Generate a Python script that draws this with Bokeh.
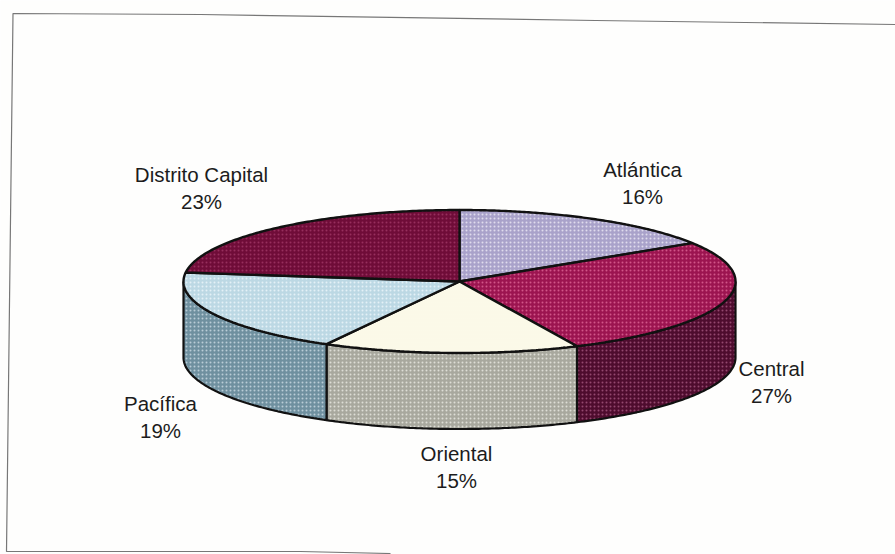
import numpy as np
from bokeh.embed import file_html
from bokeh.models import ColumnDataSource, Range1d
from bokeh.plotting import figure
from bokeh.core.properties import value
from bokeh.resources import INLINE

# Regional shares, clockwise from twelve o'clock
regions = ["Atlántica", "Central", "Oriental", "Pacífica", "Distrito Capital"]
shares = [16, 27, 15, 19, 23]

top_colors = ["#a9a2ca", "#9c1450", "#fbf9e8", "#bcd8e4", "#6f0c38"]
side_colors = ["#8f89b0", "#4e0c2e", "#a8a89e", "#6f909f", "#5a0c30"]
hatch_colors = ["#f6f4fc", "#e8709f", "#fbf9e8", "#f5fbfd", "#a83c6c"]
side_hatch = ["#ffffff", "#b0608a", "#f4f4ec", "#d8e6ee", "#ffffff"]

label_x = [642, 771, 456, 160, 201]
label_y = [169, 368, 453, 403, 174]

CX, CY, RX, RY, DEPTH = 459, 281, 276, 71.5, 76


def rim(angles, drop=0.0):
    rad = np.radians(angles)
    return CX + RX * np.sin(rad), CY - RY * np.cos(rad) + drop


p = figure(width=895, height=554, output_backend="svg", toolbar_location=None,
           x_range=Range1d(0, 895), y_range=Range1d(554, 0), min_border=0)
p.axis.visible = False
p.grid.visible = False
p.outline_line_color = None
p.background_fill_color = "#fefefd"
p.border_fill_color = "#fefefd"

# Sheet frame, slightly skewed as on a scanned page
p.line([895, 595, 200, 12.5, 6, 300, 390], [24, 20, 14, 13, 551, 551, 553],
       line_color="#777777", line_width=1.2)

edges = np.cumsum([0] + shares) * 3.6

# Visible outer wall: only the front half of the rim
for i in range(len(shares)):
    a0, a1 = max(edges[i], 90), min(edges[i + 1], 270)
    if a1 <= a0:
        continue
    a = np.linspace(a0, a1, 80)
    x, y = rim(a)
    xb, yb = rim(a, DEPTH)
    p.patch(np.r_[x, xb[::-1]], np.r_[y, yb[::-1]], fill_color=side_colors[i],
            line_color="#111111", line_width=2.2, hatch_pattern="dot",
            hatch_color=side_hatch[i], hatch_scale=4, hatch_alpha=0.7)

# Top face of each slice
for i in range(len(shares)):
    a = np.linspace(edges[i], edges[i + 1], 120)
    x, y = rim(a)
    p.patch(np.r_[CX, x], np.r_[CY, y], fill_color=top_colors[i],
            line_color="#111111", line_width=2.4, hatch_pattern="dot",
            hatch_color=hatch_colors[i], hatch_scale=4, hatch_alpha=0.7)

labels = ColumnDataSource(dict(
    x=label_x * 2,
    y=label_y + [v + 27 for v in label_y],
    t=regions + [f"{s}%" for s in shares],
))
p.text("x", "y", text="t", source=labels, text_align="center", text_baseline="middle",
       text_font=value("Liberation Sans"), text_font_size="20.5px", text_color="#1c1c1c")

open("out.html", "w").write(file_html(p, INLINE))
